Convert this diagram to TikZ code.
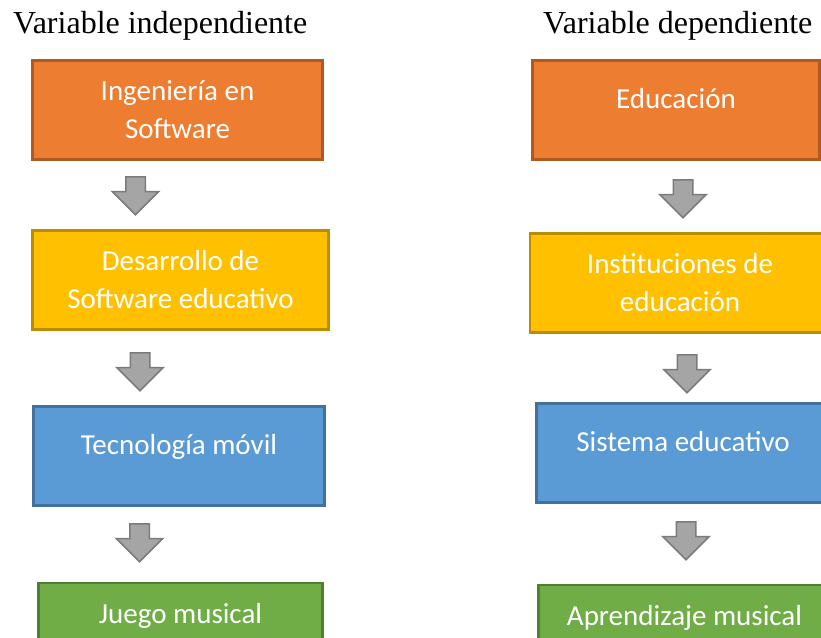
\documentclass[tikz,border=0pt]{standalone}
\usepackage{fontspec}
\setmainfont{Liberation Serif}
\newfontfamily\boxfont{Carlito}
\usepackage{xcolor}
\usepackage{tikz}
\usetikzlibrary{shapes.arrows,positioning,calc}

\definecolor{naranja}{HTML}{ED7D31}
\definecolor{naranjaB}{HTML}{AE5A21}
\definecolor{amarillo}{HTML}{FFC000}
\definecolor{amarilloB}{HTML}{BC8C00}
\definecolor{azul}{HTML}{5B9BD5}
\definecolor{azulB}{HTML}{41719C}
\definecolor{verde}{HTML}{70AD47}
\definecolor{verdeB}{HTML}{507E32}
\definecolor{flecha}{HTML}{A5A5A5}
\definecolor{flechaB}{HTML}{7B7B7B}

\begin{document}
\begin{tikzpicture}[
  x=1pt, y=-1pt,
  title/.style={anchor=base west, inner sep=0pt, font=\fontsize{32}{38}\selectfont},
  box/.style={draw=#1B, fill=#1, line width=2.5pt, minimum height=99pt, inner sep=0pt,
    align=center, text=white, font=\boxfont\fontsize{29}{38}\selectfont},
  oneline/.style={text height=20pt, text depth=#1},
  oneline/.default=24pt,
  bloque/.style={single arrow, shape border rotate=270, draw=flechaB, fill=flecha,
    line width=1.5pt, inner sep=9pt, minimum height=38pt, minimum width=0pt,
    single arrow head extend=13.5pt, single arrow tip angle=90, anchor=tail}
]
\useasboundingbox (0,0) rectangle (821,637);
\clip (0,0) rectangle (821,637);

\node[title] (indep) at (13,33) {Variable independiente};
\node[title] (dep) at (543,33) {Variable dependiente};

\node[box=naranja, minimum width=290pt] (ing) at (177.5,110) {Ingeniería en\\Software};
\node[box=amarillo, minimum width=296pt] (des) at (180.5,280) {Desarrollo de\\Software educativo};
\node[box=azul, minimum width=291pt, oneline] (tec) at (179,456) {Tecnología móvil};
\node[box=verde, minimum width=284pt, minimum height=100pt, oneline=40pt] (jue) at (180.5,633) {Juego musical};

\node[box=naranja, minimum width=287pt, oneline] (edu) at (676,110) {Educación};
\node[box=amarillo, minimum width=300pt] (ins) at (680,283) {Instituciones de\\educación};
\node[box=azul, minimum width=293pt, oneline] (sis) at (683,453) {Sistema educativo};
\node[box=verde, minimum width=292pt, minimum height=100pt, oneline=40pt] (apr) at (684.5,635) {Aprendizaje musical};

\node[bloque] (f1) at (135.5,176) {};
\node[bloque] (f2) at (140,352) {};
\node[bloque] (f3) at (139.5,523) {};
\node[bloque] (f4) at (683,179) {};
\node[bloque] (f5) at (687,354) {};
\node[bloque] (f6) at (686,521) {};
\end{tikzpicture}
\end{document}
